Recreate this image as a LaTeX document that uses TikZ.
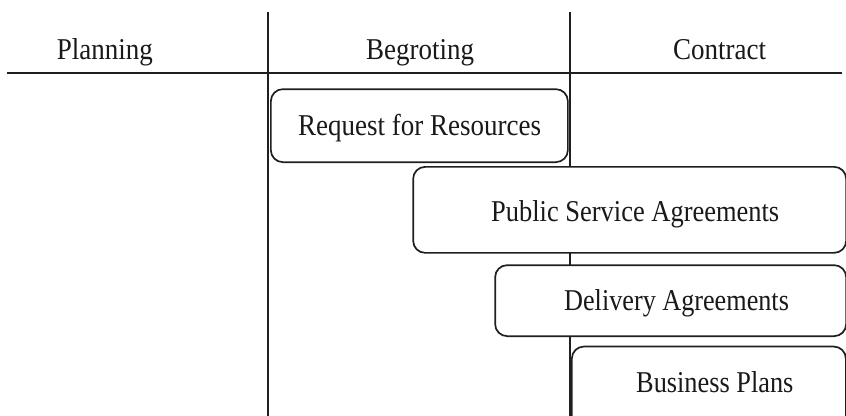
\documentclass[tikz,border=0pt]{standalone}
\usepackage{graphicx}
\usepackage{fontspec}
\setmainfont{Liberation Serif}
\newcommand\stretchtxt[2]{\scalebox{#1}[1.12]{#2}}
\begin{document}
\begin{tikzpicture}[x=1pt,y=-1pt,
  rule/.style={draw=black!88, line width=1.7pt},
  box/.style={draw=black!88, fill=white, line width=1.7pt, rounded corners=12pt,
    rectangle, inner sep=0pt, anchor=north west},
  lbl/.style={font=\fontsize{27}{30}\selectfont, text=black!90, anchor=base west, inner sep=0pt}]
\useasboundingbox (0,0) rectangle (846,415);
\clip (0,0) rectangle (846,415);
% column rules
\coordinate (v1t) at (268.3,12);
\coordinate (v1b) at (268.3,420);
\coordinate (v2t) at (569.8,12);
\coordinate (v2b) at (569.8,420);
\coordinate (hl) at (7,73.3);
\coordinate (hr) at (842,73.3);
\draw[rule] (v1t) -- (v1b);
\draw[rule] (v2t) -- (v2b);
\draw[rule] (hl) -- (hr);
% headers
\node[lbl] (planning) at (56.7,59.5) {\stretchtxt{1}{Planning}};
\node[lbl] (begroting) at (366,59.5) {\stretchtxt{1}{Begroting}};
\node[lbl] (contract) at (673,59.5) {\stretchtxt{1}{Contract}};
% boxes
\node[box, minimum width=297pt, minimum height=73pt] (b1) at (270,88.3) {};
\node[box, minimum width=433pt, minimum height=86pt] (b2) at (412.3,166) {};
\node[box, minimum width=351pt, minimum height=71pt] (b3) at (494.3,264.3) {};
\node[box, minimum width=274pt, minimum height=90pt] (b4) at (571,345.7) {};
% box labels
\node[lbl] (t1) at (298,135) {\stretchtxt{1}{Request for Resources}};
\node[lbl] (t2) at (491,221.5) {\stretchtxt{0.98}{Public Service Agreements}};
\node[lbl] (t3) at (564,310) {\stretchtxt{0.97}{Delivery Agreements}};
\node[lbl] (t4) at (636,392) {\stretchtxt{0.975}{Business Plans}};
\end{tikzpicture}
\end{document}
